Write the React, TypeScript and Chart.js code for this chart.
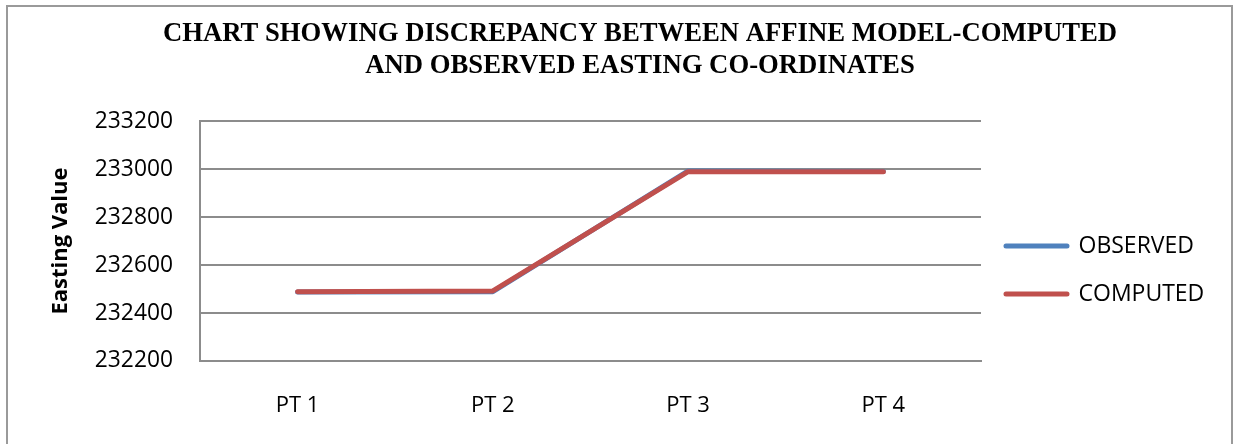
import React, { useEffect, useRef } from "react";
import { Chart, registerables } from "chart.js";

Chart.register(...registerables);

const categories = ["PT 1", "PT 2", "PT 3", "PT 4"];
const observed = [232488, 232489, 232992, 232990];
const computed = [232489, 232492, 232989, 232989];
const titleLines = [
  "CHART SHOWING DISCREPANCY BETWEEN AFFINE MODEL-COMPUTED",
  "AND OBSERVED EASTING CO-ORDINATES",
];
const yMin = 232200;
const yMax = 233200;
const yStep = 200;

const framePlugin = {
  id: "frame",
  beforeDraw(chart: any) {
    const ctx = chart.ctx;
    ctx.save();
    ctx.fillStyle = "#ffffff";
    ctx.fillRect(0, 0, chart.width, chart.height);
    ctx.strokeStyle = "#9a9a9a";
    ctx.lineWidth = 2;
    ctx.strokeRect(7, 6, 1225, 500);
    ctx.restore();
  },
};

export default function App() {
  const ref = useRef<HTMLCanvasElement | null>(null);
  useEffect(() => {
    if (!ref.current) return;
    const chart = new Chart(ref.current, {
      type: "line",
      data: {
        labels: categories,
        datasets: [
          {
            label: "OBSERVED",
            data: observed,
            order: 1,
            borderColor: "#4F81BD",
            backgroundColor: "#4F81BD",
            borderWidth: 5,
            pointRadius: 0,
            tension: 0,
            borderCapStyle: "round",
            borderJoinStyle: "round",
          },
          {
            label: "COMPUTED",
            data: computed,
            order: 0,
            borderColor: "#C0504D",
            backgroundColor: "#C0504D",
            borderWidth: 5,
            pointRadius: 0,
            tension: 0,
            borderCapStyle: "round",
            borderJoinStyle: "round",
          },
        ],
      },
      options: {
        responsive: false,
        animation: false,
        layout: { padding: { left: 71, right: 24, top: 0, bottom: 29 } },
        plugins: {
          title: {
            display: true,
            text: titleLines,
            color: "#000000",
            font: { family: "'Liberation Serif', 'Times New Roman', serif", size: 26.7, weight: "bold", lineHeight: 1.2 },
            padding: { top: 18, bottom: 39 },
          },
          legend: {
            display: true,
            position: "right",
            align: "center",
            reverse: true,
            maxWidth: 228,
            title: {
              display: true,
              text: " ",
              font: { size: 12, lineHeight: 1.2 },
              padding: { top: 110.6, bottom: 0 },
            },
            labels: {
              color: "#000000",
              font: { family: "'Open Sans', sans-serif", size: 23 },
              boxWidth: 61,
              boxHeight: 0,
              padding: 25,
            },
          },
          tooltip: { enabled: false },
        },
        scales: {
          x: {
            offset: true,
            grid: { display: false, drawTicks: false },
            border: { display: true, color: "#8c8c8c", width: 2 },
            ticks: {
              color: "#000000",
              font: { family: "'Open Sans', sans-serif", size: 22 },
              padding: 32,
              maxRotation: 0,
            },
            afterFit(scale: any) {
              scale.height = 54;
            },
          },
          y: {
            min: yMin,
            max: yMax,
            grid: { color: "#8c8c8c", lineWidth: 2, drawTicks: false },
            border: { display: true, color: "#8c8c8c", width: 2 },
            ticks: {
              stepSize: yStep,
              color: "#000000",
              font: { family: "'Open Sans', sans-serif", size: 22.8 },
              padding: 27,
              callback: (v: any) => String(v),
            },
            title: {
              display: true,
              text: "Easting Value",
              color: "#000000",
              font: { family: "'Open Sans', sans-serif", size: 22, weight: "bold" },
              padding: { top: -23.2, bottom: 0 },
            },
            afterFit(scale: any) {
              scale.width = 129;
            },
          },
        },
      },
      plugins: [framePlugin],
    } as any);
    return () => chart.destroy();
  }, []);
  return (
    <div style={{ position: "absolute", left: 0, top: 0, width: 1233, height: 444 }}>
      <canvas ref={ref} width={1233} height={444} style={{ width: 1233, height: 444, display: "block" }} />
    </div>
  );
}
